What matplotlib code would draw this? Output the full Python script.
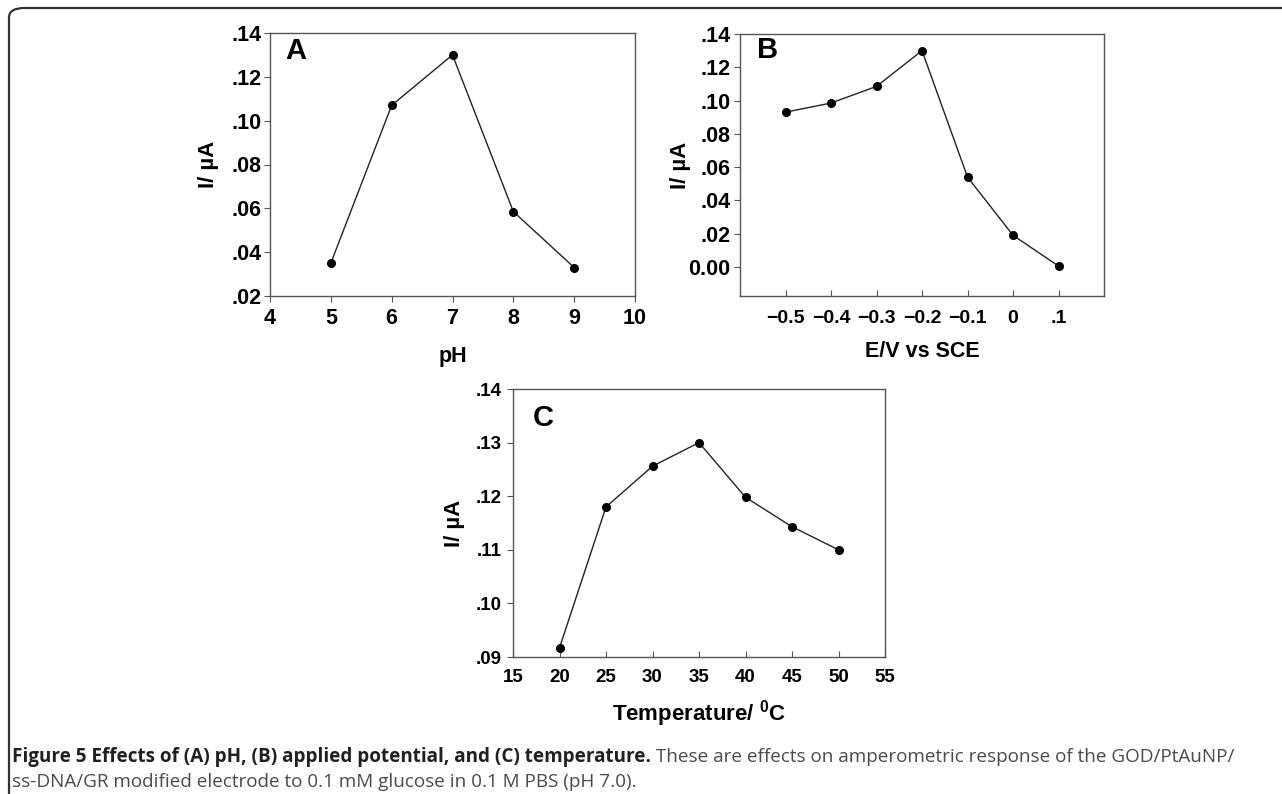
import numpy as np
import matplotlib
matplotlib.use("Agg")
import matplotlib.pyplot as plt
from matplotlib.ticker import FuncFormatter
from matplotlib.patches import FancyBboxPatch

plt.rcParams['font.family'] = ['Liberation Sans', 'DejaVu Sans']
plt.rcParams['mathtext.fontset'] = 'custom'
plt.rcParams['mathtext.rm'] = 'Liberation Sans:bold'
plt.rcParams['mathtext.bf'] = 'Liberation Sans:bold'

# panel A: pH
ph = [5, 6, 7, 8, 9]
current_ph = [0.035, 0.107, 0.130, 0.0585, 0.033]

# panel B: applied potential
potential = [-0.5, -0.4, -0.3, -0.2, -0.1, 0.0, 0.1]
current_pot = [0.093, 0.0985, 0.1085, 0.130, 0.054, 0.019, 0.0005]
potential_labels = ['\u22120.5', '\u22120.4', '\u22120.3', '\u22120.2', '\u22120.1', '0', '.1']

# panel C: temperature
temperature = [20, 25, 30, 35, 40, 45, 50]
current_temp = [0.0917, 0.118, 0.1256, 0.130, 0.1198, 0.1143, 0.110]

W, H = 1282, 794
fig = plt.figure(figsize=(W / 100, H / 100), dpi=100)


def px_axes(left, right, top, bottom):
    return fig.add_axes([left / W, 1 - bottom / H, (right - left) / W, (bottom - top) / H])


def no_lead_zero(v, pos):
    s = f"{v:.2f}"
    if s.startswith("0.") and v != 0:
        s = s[1:]
    return s


def style(ax, xdir, ydir, size, xpad, ypad):
    for side in ['top', 'right', 'left', 'bottom']:
        ax.spines[side].set_color('#555555')
        ax.spines[side].set_linewidth(1.0)
    ax.tick_params(axis='x', direction=xdir, length=4, width=0.8, color='#555555',
                   labelsize=size, pad=xpad)
    ax.tick_params(axis='y', direction=ydir, length=4, width=0.8, color='#555555',
                   labelsize=size, pad=ypad)
    for lab in ax.get_xticklabels() + ax.get_yticklabels():
        lab.set_fontweight('bold')
    ax.yaxis.set_major_formatter(FuncFormatter(no_lead_zero))


def draw(ax, x, y):
    ax.plot(x, y, color='#222222', lw=1.0, marker='o', ms=5.5,
            markerfacecolor='black', markeredgecolor='black')


# A
axA = px_axes(270, 635, 33, 296)
draw(axA, ph, current_ph)
axA.set_xlim(4, 10)
axA.set_ylim(0.02, 0.14)
axA.set_xticks(np.arange(4, 11, 1))
axA.set_yticks(np.arange(0.02, 0.141, 0.02))
style(axA, 'out', 'out', 15.5, 5, 2)
axA.set_xlabel('pH', fontsize=15.5, fontweight='bold', labelpad=12)
axA.set_ylabel('I/ \u00b5A', fontsize=16, fontweight='bold')
axA.yaxis.set_label_coords(-0.14, 0.5)
axA.text(0.07, 0.93, 'A', transform=axA.transAxes, fontsize=21, fontweight='bold',
         ha='center', va='center')

# B
axB = px_axes(740, 1104, 34, 296)
draw(axB, potential, current_pot)
axB.set_xlim(-0.6, 0.2)
axB.set_ylim(-0.0175, 0.14)
axB.set_xticks(potential)
axB.set_xticklabels(potential_labels)
axB.set_yticks(np.arange(0.0, 0.141, 0.02))
style(axB, 'in', 'out', 15.5, 10, 3)
axB.tick_params(axis='x', labelsize=14)
axB.set_xlabel('E/V vs SCE', fontsize=15.5, fontweight='bold', labelpad=10)
axB.set_ylabel('I/ \u00b5A', fontsize=16, fontweight='bold')
axB.yaxis.set_label_coords(-0.135, 0.5)
axB.text(0.077, 0.94, 'B', transform=axB.transAxes, fontsize=21, fontweight='bold',
         ha='center', va='center')

# C
axC = px_axes(513, 885, 389, 657)
draw(axC, temperature, current_temp)
axC.set_xlim(15, 55)
axC.set_ylim(0.09, 0.14)
axC.set_xticks(np.arange(15, 56, 5))
axC.set_yticks(np.arange(0.09, 0.1401, 0.01))
style(axC, 'in', 'out', 13.5, 8.5, 4)
axC.set_xlabel('Temperature/ $^{0}$C', fontsize=16, fontweight='bold', labelpad=9)
axC.set_ylabel('I/ \u00b5A', fontsize=16, fontweight='bold')
axC.yaxis.set_label_coords(-0.13, 0.5)
axC.text(0.08, 0.89, 'C', transform=axC.transAxes, fontsize=21, fontweight='bold',
         ha='center', va='center')

# outer frame, open at right and bottom
frame = FancyBboxPatch((9 / W, -0.1), 1.2, 1 - 8 / H + 0.1,
                       boxstyle='round,pad=0,rounding_size=0.012',
                       transform=fig.transFigure, fill=False,
                       edgecolor='#333333', linewidth=1.6, clip_on=False)
fig.patches.append(frame)

# caption
cap_font = ['Open Sans', 'DejaVu Sans']
bold_part = 'Figure 5 Effects of (A) pH, (B) applied potential, and (C) temperature.'
rest1 = ' These are effects on amperometric response of the GOD/PtAuNP/'
line2 = 'ss-DNA/GR modified electrode to 0.1 mM glucose in 0.1 M PBS (pH 7.0).'
t1 = fig.text(12 / W, 1 - 757 / H, bold_part, fontsize=13.55, fontweight='bold',
              family=cap_font, color='#231f20', va='center')
fig.canvas.draw()
bb = t1.get_window_extent()
fig.text(bb.x1 / W, 1 - 757 / H, rest1, fontsize=13.55, family=cap_font,
         color='#4a4a4a', va='center')
fig.text(12 / W, 1 - 782 / H, line2, fontsize=13.55, family=cap_font,
         color='#4a4a4a', va='center')

fig.savefig('out.png', dpi=100)
